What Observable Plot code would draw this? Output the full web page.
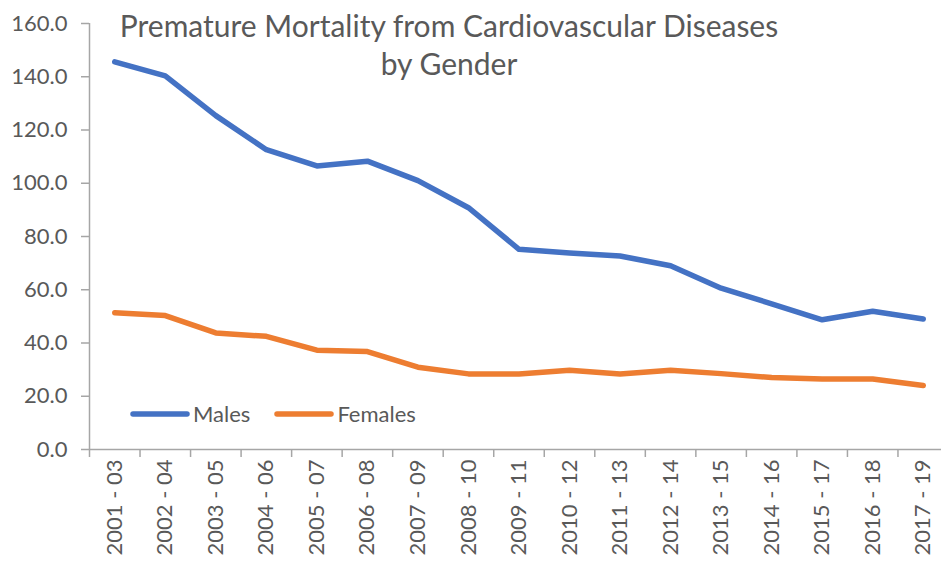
<!DOCTYPE html>
<html>
<head>
<meta charset="utf-8">
<script src="https://cdn.jsdelivr.net/npm/d3@7"></script>
<script src="https://cdn.jsdelivr.net/npm/@observablehq/plot@0.6"></script>
<style>
  body { margin: 0; background: #fff; }
  #wrap { position: relative; width: 941px; height: 561px; overflow: hidden; font-family: Lato, "Open Sans", sans-serif; color: #595959; }
  #title { position: absolute; left: 0; top: 6px; width: 898px; text-align: center; font-size: 30px; line-height: 38px; color: #595959; }
  #legend { position: absolute; left: 130px; top: 400px; display: flex; align-items: center; font-size: 22px; color: #595959; }
  #legend .item { display: flex; align-items: center; margin-right: 24px; }
  #legend svg { margin-right: 3px; }
</style>
</head>
<body>
<div id="wrap">
  <div id="chart"></div>
  <div id="title">Premature Mortality from Cardiovascular Diseases<br>by Gender</div>
  <div id="legend"></div>
</div>
<script>
const categories = ["2001 - 03","2002 - 04","2003 - 05","2004 - 06","2005 - 07","2006 - 08","2007 - 09","2008 - 10","2009 - 11","2010 - 12","2011 - 13","2012 - 14","2013 - 15","2014 - 16","2015 - 17","2016 - 18","2017 - 19"];
const males   = [145.6, 140.3, 125.4, 112.6, 106.5, 108.3, 101.0, 90.8, 75.2, 73.8, 72.7, 69.0, 60.6, 54.7, 48.7, 51.9, 49.0];
const females = [51.4, 50.3, 43.8, 42.5, 37.3, 36.8, 30.9, 28.4, 28.4, 29.8, 28.4, 29.8, 28.5, 27.0, 26.5, 26.5, 24.0];
const seriesNames = ["Males", "Females"];
const seriesColors = ["#4472C4", "#ED7D31"];
const yTicks = [0, 20, 40, 60, 80, 100, 120, 140, 160];

const idx = categories.map((_, i) => i);
const rows = (vals) => vals.map((v, i) => ({i, v}));
const boundaries = d3.range(categories.length + 1).map(k => k - 0.5);
const axisGray = "#a6a6a6";
const textGray = "#595959";

const plot = Plot.plot({
  width: 941,
  height: 561,
  marginTop: 23,
  marginBottom: 112,
  marginLeft: 89,
  marginRight: 0,
  style: { fontFamily: "Lato, 'Open Sans', sans-serif", fontSize: "22px", color: textGray, background: "white" },
  x: { type: "linear", domain: [-0.5, categories.length - 0.5], range: [89, 948], label: null },
  y: { domain: [0, 160], label: null },
  marks: [
    Plot.ruleY([0], { stroke: axisGray, strokeWidth: 1.5 }),
    Plot.ruleX([-0.5], { stroke: axisGray, strokeWidth: 1.5 }),
    Plot.axisY({ ticks: yTicks, tickFormat: d3.format(".1f"), tickSize: 8, tickPadding: 14, stroke: axisGray, fill: textGray, strokeWidth: 1.5, label: null }),
    Plot.axisX({ ticks: boundaries, tickFormat: () => "", tickSize: 8, stroke: axisGray, strokeWidth: 1.5, label: null }),
    Plot.axisX({ ticks: idx, tickFormat: i => categories[i], tickSize: 0, tickPadding: 10, tickRotate: -90, fill: textGray, label: null }),
    Plot.line(rows(females), { x: "i", y: "v", stroke: seriesColors[1], strokeWidth: 5.5, strokeLinecap: "round", strokeLinejoin: "round" }),
    Plot.line(rows(males), { x: "i", y: "v", stroke: seriesColors[0], strokeWidth: 5.5, strokeLinecap: "round", strokeLinejoin: "round" })
  ]
});
document.getElementById("chart").appendChild(plot);

const legend = document.getElementById("legend");
seriesNames.forEach((name, k) => {
  const item = document.createElement("div");
  item.className = "item";
  item.innerHTML = `<svg width="60" height="10"><line x1="3" y1="5" x2="57" y2="5" stroke="${seriesColors[k]}" stroke-width="5.5" stroke-linecap="round"/></svg><span>${name}</span>`;
  legend.appendChild(item);
});
</script>
</body>
</html>
